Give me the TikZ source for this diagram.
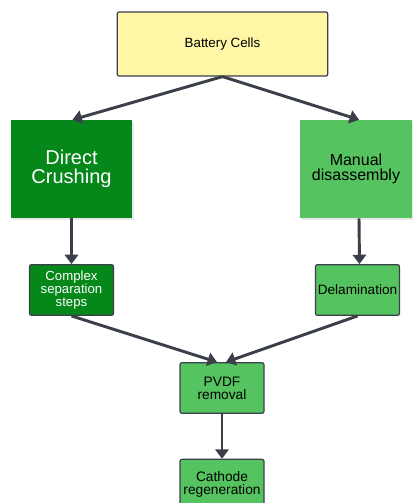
\documentclass[tikz,border=0pt]{standalone}
\usepackage{fontspec}
\setmainfont{Liberation Sans}
\usepackage{xcolor}
\usetikzlibrary{arrows.meta, positioning, calc, shadows}

\definecolor{cellyellow}{HTML}{FFF6A6}
\definecolor{darkgreen}{HTML}{05871A}
\definecolor{lightgreen}{HTML}{55C35F}
\definecolor{linegray}{HTML}{3B3F4A}

\tikzset{
	box/.style={draw=linegray, line width=0.9pt, rounded corners=1.5pt, align=center, inner sep=1pt},
	bigbox/.style={align=center, inner sep=1pt, drop shadow={opacity=0.18, shadow xshift=1.5pt, shadow yshift=-1.5pt}},
	flow/.style={draw=linegray, line width=2.2pt, -{Triangle[length=7pt, width=10pt]}}
}

\begin{document}
\begin{tikzpicture}[x=0.75pt, y=-0.75pt]
			\useasboundingbox (0,0) rectangle (412,503);
			\node[box, fill=cellyellow, minimum width=158pt, minimum height=48pt, font=\fontsize{10}{12}\selectfont] (bat) at (222.5,44) {Battery Cells};
			\node[bigbox, fill=darkgreen, text=white, minimum width=91pt, minimum height=73.5pt, font=\fontsize{15}{14.5}\selectfont] (dc) at (71.5,169) {Direct\\Crushing};
			\node[bigbox, fill=lightgreen, minimum width=84pt, minimum height=73.5pt, font=\fontsize{12}{11.5}\selectfont] (md) at (356,169) {Manual\\disassembly};
			\node[box, fill=darkgreen, text=white, minimum width=63pt, minimum height=38pt, font=\fontsize{9.9}{10}\selectfont] (cs) at (71.5,290) {Complex\\separation\\steps};
			\node[box, fill=lightgreen, minimum width=63pt, minimum height=38pt, font=\fontsize{10.2}{10}\selectfont] (del) at (357.5,290) {Delamination};
			\node[box, fill=lightgreen, minimum width=63pt, minimum height=38pt, font=\fontsize{10.3}{9.6}\selectfont] (pvdf) at (222,388) {PVDF\\removal};
			\node[box, fill=lightgreen, minimum width=63pt, minimum height=40pt, text depth=4pt, font=\fontsize{10.3}{9.8}\selectfont] (cath) at (222,486) {Cathode\\regeneration};
			% arrows
			\draw[flow] (bat.south) -- ($(dc.north)+(1,0)$);
			\draw[flow] (bat.south) -- ($(md.north)+(3,0)$);
			\draw[flow] (dc.south) -- (cs.north);
			\draw[flow] ($(md.south)+(3,0)$) -- ($(del.north)+(2,0)$);
			\draw[flow] (cs.south) -- ($(pvdf.north)+(-5,0)$);
			\draw[flow] (del.south) -- ($(pvdf.north)+(4,0)$);
			\draw[flow] (pvdf.south) -- (cath.north);
		\end{tikzpicture}
\end{document}
